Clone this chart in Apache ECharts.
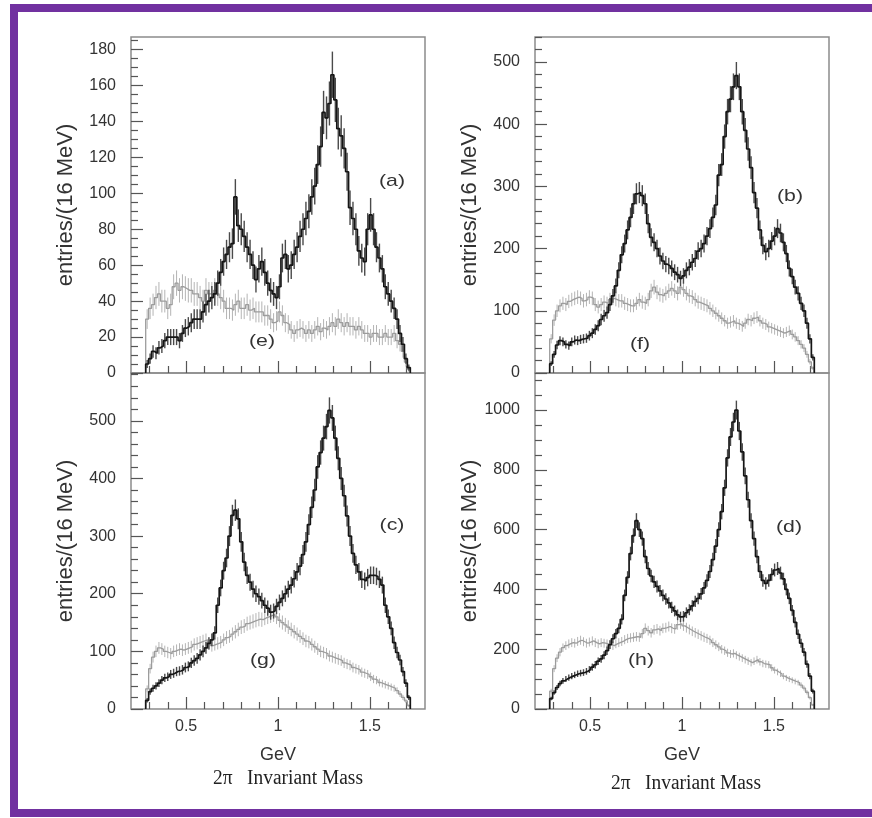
<!DOCTYPE html>
<html>
<head>
<meta charset="utf-8">
<script src="https://cdn.jsdelivr.net/npm/echarts@6/dist/echarts.min.js"></script>
<style>
html,body{margin:0;padding:0;background:#fff;}
#chart{width:872px;height:818px;}
</style>
</head>
<body>
<div id="chart"></div>
<script>
// ---- binning (16 MeV bins from 0.28 GeV) ----
const binStart = 0.28;
const binWidth = 0.016;

// ---- panel (a) signal and (e) background ----
const seriesA = [5,8,12,11,14,15,18,20,20,20, 20,18,22,25,26,28,30,30,30,34, 38,40,42,44,50,56,62,66,70,72, 98,82,80,76,70,66,60,52,58,62, 56,50,46,44,42,48,64,66,58,60, 66,70,76,80,86,90,98,104,116,126, 145,142,150,166,152,136,132,125,112,92, 86,80,68,64,62,80,88,80,70,64, 58,48,44,40,36,30,22,16,8,3];
const seriesE = [30,36,38,42,44,40,40,36,38,48, 50,46,48,47,46,46,44,44,42,40, 46,44,44,46,44,42,40,36,36,35, 38,40,36,36,38,35,36,34,34,34, 32,32,30,28,29,34,32,28,27,24, 22,24,25,24,22,24,22,24,26,23, 25,24,26,28,26,30,28,26,28,26, 26,24,26,24,22,22,20,22,22,20, 20,22,20,20,22,18,16,12,6,2];
// ---- panel (b) signal and (f) background ----
const seriesB = [15,30,45,52,50,46,44,50,53,52, 54,55,56,60,64,70,76,86,92,97, 110,124,140,165,190,208,230,250,272,288, 290,285,272,240,218,210,200,188,180,175, 172,168,162,158,152,156,165,170,178,184, 196,200,208,220,232,250,270,318,335,380, 420,440,460,478,460,420,390,360,330,290, 265,230,205,195,200,212,220,232,225,210, 192,168,155,138,128,112,100,80,55,25];
const seriesF = [55,85,100,108,112,110,115,118,120,122, 120,116,118,122,120,110,106,110,114,112, 118,120,118,116,116,112,110,108,108,112, 118,114,112,118,132,138,130,126,124,128, 132,136,132,128,138,134,128,124,122,118, 114,112,110,108,104,100,96,92,88,84, 80,82,84,80,78,75,80,86,84,88, 90,84,80,78,74,72,70,68,66,64, 66,68,62,58,52,46,40,30,18,8];
// ---- panel (c) signal and (g) background ----
const seriesC = [15,30,36,40,45,50,54,56,60,62, 65,66,68,72,74,80,84,88,94,100, 106,114,120,132,180,210,240,262,300,336, 345,330,290,255,232,220,208,200,195,188, 180,175,168,170,178,185,192,200,208,215, 226,238,248,268,290,320,350,380,420,445, 470,490,518,505,470,435,400,370,335,300, 270,250,238,225,222,228,232,232,230,225, 215,180,160,140,115,98,85,65,45,20];
const seriesG = [35,70,90,100,106,104,100,98,96,100, 102,104,102,104,106,108,112,114,116,118, 120,114,110,112,114,116,120,124,126,130, 134,138,142,144,148,150,152,154,156,155, 158,160,162,164,160,154,150,146,142,138, 134,130,126,122,118,116,112,108,104,100, 98,96,92,90,88,86,84,80,78,76, 72,70,68,64,62,60,56,52,50,46, 44,42,40,38,36,32,26,20,14,6];
// ---- panel (d) signal and (h) background ----
const seriesD = [35,55,72,85,94,100,105,110,114,118, 120,122,126,132,140,148,160,168,180,195, 215,235,252,270,300,380,440,520,580,630, 600,570,510,470,445,425,410,395,380,368, 355,340,328,315,308,310,322,332,345,360, 370,385,405,430,460,500,545,600,660,740, 840,910,960,1000,930,860,780,700,630,570, 510,460,430,420,430,450,465,470,455,435, 400,370,330,290,250,220,190,150,110,60];
const seriesH = [60,135,170,190,205,212,218,222,220,226, 230,225,220,224,228,222,218,222,220,218, 215,212,218,222,226,232,236,238,240,242, 240,252,270,262,255,265,268,262,270,272, 276,270,268,282,285,278,272,266,260,255, 250,245,240,236,230,222,215,208,200,195, 188,184,186,180,175,170,165,160,155,160, 165,158,152,150,148,138,130,124,118,110, 104,100,96,92,88,80,70,56,38,14];

// ---- tick labels ----
const xMajorTicks = [0.5, 1, 1.5];
const xMinorTicks = [0.3, 0.4, 0.6, 0.7, 0.8, 0.9, 1.1, 1.2, 1.3, 1.4, 1.6, 1.7];
const yTicksA = [0, 20, 40, 60, 80, 100, 120, 140, 160, 180];
const yTicksB = [0, 100, 200, 300, 400, 500];
const yTicksC = [0, 100, 200, 300, 400, 500];
const yTicksD = [0, 200, 400, 600, 800, 1000];
const panelNames = ['(a)', '(b)', '(c)', '(d)'];
const bgNames = ['(e)', '(f)', '(g)', '(h)'];
const xName = 'GeV';
const yName = 'entries/(16 MeV)';
const bottomTitle = '2\u03c0   Invariant Mass';

function minorList(step, max, majorStep) {
  const out = [];
  for (let v = step; v <= max + 1e-9; v += step) {
    const r = Math.round(v * 1000) / 1000;
    if (Math.abs(r / majorStep - Math.round(r / majorStep)) > 1e-6) out.push(r);
  }
  return out;
}

const SANS = 'Liberation Sans, Arial, Helvetica, sans-serif';
const panels = [
  {main: seriesA, bg: seriesE, yMax: 187, yTicks: yTicksA, yMinor: minorList(5, 187, 20), left: 131, top: 37, bottom: false,
   lab: {x: 392, y: 181}, bgLab: {x: 262, y: 341}},
  {main: seriesB, bg: seriesF, yMax: 540, yTicks: yTicksB, yMinor: minorList(20, 540, 100), left: 535, top: 37, bottom: false,
   lab: {x: 790, y: 196}, bgLab: {x: 640, y: 344}},
  {main: seriesC, bg: seriesG, yMax: 583, yTicks: yTicksC, yMinor: minorList(20, 583, 100), left: 131, top: 373, bottom: true,
   lab: {x: 392, y: 525}, bgLab: {x: 263, y: 660}},
  {main: seriesD, bg: seriesH, yMax: 1124, yTicks: yTicksD, yMinor: minorList(50, 1124, 200), left: 535, top: 373, bottom: true,
   lab: {x: 789, y: 527}, bgLab: {x: 641, y: 660}}
];

function histPoints(vals) {
  const pts = [[binStart, 0]];
  vals.forEach((v, i) => pts.push([binStart + i * binWidth, v]));
  const end = binStart + vals.length * binWidth;
  pts.push([end, vals[vals.length - 1]]);
  pts.push([end, 0]);
  return pts;
}
function errPoints(vals) {
  return vals.map((v, i) => [binStart + (i + 0.5) * binWidth, v, Math.sqrt(v)]);
}

const grids = [], xAxes = [], yAxes = [], series = [], graphics = [];
panels.forEach((p, k) => {
  grids.push({left: p.left, top: p.top, width: 294, height: 336, show: true,
    borderColor: '#8c8c8c', borderWidth: 1.5, backgroundColor: 'transparent'});
  // main x axis
  xAxes.push({gridIndex: k, type: 'value', min: 0.2, max: 1.8, position: 'bottom',
    name: p.bottom ? xName : '', nameLocation: 'middle', nameGap: 37,
    nameTextStyle: {fontSize: 18, color: '#333', fontFamily: SANS},
    axisLine: {show: false},
    axisTick: {show: true, inside: true, length: 12, customValues: xMajorTicks, lineStyle: {color: '#555', width: 1.2}},
    axisLabel: {show: p.bottom, customValues: xMajorTicks, margin: 10, fontSize: 16, color: '#333', fontFamily: SANS,
      formatter: v => String(v)},
    splitLine: {show: false}});
  // minor x axis
  xAxes.push({gridIndex: k, type: 'value', min: 0.2, max: 1.8, position: 'bottom',
    axisLine: {show: false},
    axisTick: {show: true, inside: true, length: 7, customValues: xMinorTicks, lineStyle: {color: '#555', width: 1.2}},
    axisLabel: {show: false}, splitLine: {show: false}});
  // main y
  yAxes.push({gridIndex: k, type: 'value', min: 0, max: p.yMax, position: 'left',
    name: yName, nameLocation: 'middle', nameGap: 54, nameRotate: 90,
    nameTextStyle: {fontSize: 22, color: '#333', fontFamily: SANS},
    axisLine: {show: false},
    axisTick: {show: true, inside: true, length: 12, customValues: p.yTicks, lineStyle: {color: '#555', width: 1.2}},
    axisLabel: {show: true, customValues: p.yTicks, margin: 15, fontSize: 16, color: '#333', fontFamily: SANS,
      formatter: v => String(v)},
    splitLine: {show: false}});
  // minor y
  yAxes.push({gridIndex: k, type: 'value', min: 0, max: p.yMax, position: 'left',
    axisLine: {show: false},
    axisTick: {show: true, inside: true, length: 7, customValues: p.yMinor, lineStyle: {color: '#555', width: 1.2}},
    axisLabel: {show: false}, splitLine: {show: false}});

  const xi = 2 * k, yi = 2 * k;
  const errRender = (color, width) => function (params, api) {
    const x = api.value(0), y = api.value(1), e = api.value(2);
    const a = api.coord([x, y + e]);
    const b = api.coord([x, Math.max(0, y - e)]);
    return {type: 'line', shape: {x1: a[0], y1: a[1], x2: b[0], y2: b[1]},
      style: {stroke: color, lineWidth: width}};
  };
  // background (gray)
  series.push({type: 'custom', xAxisIndex: xi, yAxisIndex: yi, data: errPoints(p.bg),
    renderItem: errRender('#b4b4b4', 1), clip: true, z: 2, silent: true});
  series.push({type: 'line', xAxisIndex: xi, yAxisIndex: yi, data: histPoints(p.bg), step: 'end',
    showSymbol: false, symbol: 'none', lineStyle: {color: '#9c9c9c', width: 1.3}, z: 3, silent: true});
  // signal (dark)
  series.push({type: 'custom', xAxisIndex: xi, yAxisIndex: yi, data: errPoints(p.main),
    renderItem: errRender('#4a4a4a', 1.4), clip: true, z: 4, silent: true});
  series.push({type: 'line', xAxisIndex: xi, yAxisIndex: yi, data: histPoints(p.main), step: 'end',
    showSymbol: false, symbol: 'none', lineStyle: {color: '#151515', width: 1.7}, z: 5, silent: true});

  graphics.push({type: 'text', x: p.lab.x, y: p.lab.y, scaleX: 1.25,
    style: {text: panelNames[k], font: '17px ' + SANS, fill: '#333', align: 'center', verticalAlign: 'middle'}});
  graphics.push({type: 'text', x: p.bgLab.x, y: p.bgLab.y, scaleX: 1.25,
    style: {text: bgNames[k], font: '17px ' + SANS, fill: '#333', align: 'center', verticalAlign: 'middle'}});
});

// bottom titles
const SERIF = '20px "Liberation Serif", "Times New Roman", serif';
graphics.push({type: 'text', x: 288, y: 779, scaleX: 0.97,
  style: {text: bottomTitle, font: SERIF, fill: '#222', align: 'center', verticalAlign: 'middle'}});
graphics.push({type: 'text', x: 686, y: 784, scaleX: 0.97,
  style: {text: bottomTitle, font: SERIF, fill: '#222', align: 'center', verticalAlign: 'middle'}});
// purple frame
const PURPLE = '#7131a0';
graphics.push({type: 'rect', shape: {x: 10, y: 4, width: 862, height: 8}, style: {fill: PURPLE}});
graphics.push({type: 'rect', shape: {x: 10, y: 809, width: 862, height: 8}, style: {fill: PURPLE}});
graphics.push({type: 'rect', shape: {x: 10, y: 4, width: 8, height: 813}, style: {fill: PURPLE}});

const chart = echarts.init(document.getElementById('chart'), null, {renderer: 'canvas'});
chart.setOption({
  animation: false,
  backgroundColor: '#fff',
  grid: grids,
  xAxis: xAxes,
  yAxis: yAxes,
  series: series,
  graphic: graphics
});
</script>
</body>
</html>
